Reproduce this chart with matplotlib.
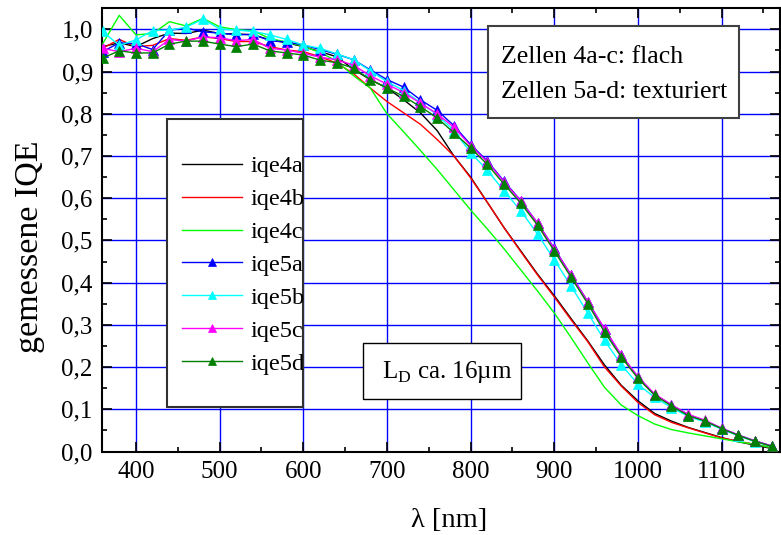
import matplotlib
matplotlib.use("Agg")
import matplotlib.pyplot as plt
from matplotlib.patches import Rectangle
from matplotlib.ticker import MultipleLocator, FuncFormatter

plt.rcParams['font.family'] = ['Liberation Serif', 'DejaVu Serif']
plt.rcParams['mathtext.fontset'] = 'custom'
plt.rcParams['mathtext.rm'] = 'Liberation Serif'

wavelength = [360, 380, 400, 420, 440, 460, 480, 500, 520, 540, 560, 580, 600, 620, 640,
              660, 680, 700, 720, 740, 760, 780, 800, 820, 840, 860, 880, 900, 920, 940,
              960, 980, 1000, 1020, 1040, 1060, 1080, 1100, 1120, 1140, 1160]

iqe4a = [0.959, 0.968, 0.959, 0.978, 0.991, 0.990, 0.998, 0.990, 0.989, 0.987, 0.975, 0.968, 0.959, 0.947, 0.935,
         0.905, 0.881, 0.861, 0.833, 0.802, 0.760, 0.700, 0.650, 0.590, 0.530, 0.475, 0.420, 0.369, 0.315, 0.262,
         0.205, 0.157, 0.120, 0.090, 0.072, 0.057, 0.045, 0.033, 0.023, 0.015, 0.007]
iqe4b = [0.955, 0.976, 0.959, 0.962, 0.978, 0.974, 0.982, 0.978, 0.971, 0.971, 0.959, 0.951, 0.947, 0.935, 0.920,
         0.895, 0.861, 0.829, 0.802, 0.775, 0.739, 0.700, 0.648, 0.590, 0.530, 0.473, 0.418, 0.366, 0.312, 0.260,
         0.200, 0.155, 0.116, 0.087, 0.069, 0.056, 0.044, 0.032, 0.024, 0.017, 0.009]
iqe4c = [0.965, 1.033, 0.987, 0.990, 1.018, 1.008, 1.026, 1.006, 0.999, 0.997, 0.978, 0.970, 0.960, 0.945, 0.925,
         0.890, 0.861, 0.800, 0.757, 0.713, 0.668, 0.620, 0.572, 0.527, 0.480, 0.430, 0.380, 0.328, 0.270, 0.210,
         0.152, 0.110, 0.085, 0.065, 0.052, 0.044, 0.037, 0.030, 0.023, 0.017, 0.009]
iqe5a = [0.947, 0.968, 0.966, 0.952, 0.998, 1.003, 0.994, 0.991, 0.987, 0.988, 0.973, 0.970, 0.963, 0.952, 0.941,
         0.928, 0.904, 0.881, 0.863, 0.833, 0.808, 0.772, 0.727, 0.688, 0.640, 0.594, 0.541, 0.481, 0.418, 0.355,
         0.290, 0.228, 0.176, 0.135, 0.110, 0.087, 0.073, 0.055, 0.039, 0.025, 0.013]
iqe5b = [0.995, 0.962, 0.975, 0.997, 0.998, 1.005, 1.024, 1.001, 0.998, 0.995, 0.987, 0.976, 0.963, 0.955, 0.942,
         0.928, 0.902, 0.876, 0.855, 0.826, 0.798, 0.760, 0.708, 0.666, 0.617, 0.570, 0.515, 0.454, 0.392, 0.328,
         0.263, 0.206, 0.159, 0.128, 0.104, 0.083, 0.070, 0.053, 0.037, 0.023, 0.012]
iqe5c = [0.955, 0.947, 0.955, 0.947, 0.976, 0.972, 0.982, 0.980, 0.973, 0.976, 0.955, 0.951, 0.943, 0.934, 0.928,
         0.915, 0.890, 0.870, 0.850, 0.825, 0.800, 0.768, 0.724, 0.686, 0.638, 0.593, 0.541, 0.480, 0.418, 0.355,
         0.291, 0.229, 0.177, 0.136, 0.111, 0.088, 0.074, 0.055, 0.039, 0.025, 0.013]
iqe5d = [0.932, 0.949, 0.944, 0.944, 0.965, 0.972, 0.972, 0.965, 0.959, 0.965, 0.949, 0.944, 0.939, 0.927, 0.921,
         0.908, 0.881, 0.861, 0.841, 0.817, 0.790, 0.755, 0.719, 0.680, 0.633, 0.588, 0.536, 0.475, 0.413, 0.350,
         0.283, 0.224, 0.173, 0.133, 0.108, 0.085, 0.072, 0.054, 0.038, 0.024, 0.012]

labels = ['iqe4a', 'iqe4b', 'iqe4c', 'iqe5a', 'iqe5b', 'iqe5c', 'iqe5d']
colors = ['#000000', '#ff0000', '#00ff00', '#0000ff', '#00ffff', '#ff00ff', '#008000']
series = [iqe4a, iqe4b, iqe4c, iqe5a, iqe5b, iqe5c, iqe5d]
with_markers = [False, False, False, True, True, True, True]

W, H = 781, 535
fig = plt.figure(figsize=(W / 100, H / 100), dpi=100)


def fx(px):
    return px / W


def fy(py):
    return 1 - py / H


ax = fig.add_axes([fx(102.5), fy(451.5), fx(780.2) - fx(102.5), fy(8.2) - fy(451.5)])

for y, lab, c, m in zip(series, labels, colors, with_markers):
    ax.plot(wavelength, y, color=c, lw=1.0, label=lab,
            marker='^' if m else None, markersize=6.5, markeredgewidth=0.5,
            markerfacecolor=c, markeredgecolor=c, zorder=3)

ax.set_xlim(360, 1170)
ax.set_ylim(0, 1.05)
ax.xaxis.set_major_locator(MultipleLocator(100))
ax.xaxis.set_minor_locator(MultipleLocator(50))
ax.yaxis.set_major_locator(MultipleLocator(0.1))
ax.yaxis.set_minor_locator(MultipleLocator(0.05))
ax.yaxis.set_major_formatter(FuncFormatter(lambda v, p: f"{v:.1f}".replace('.', ',')))
ax.grid(True, which='major', color='#0000ff', lw=1.0, zorder=1)
ax.set_axisbelow(True)
ax.tick_params(which='both', direction='in', top=True, right=True, width=1.2, labelsize=18, colors='black')
ax.tick_params(which='major', length=7, pad=7)
ax.tick_params(which='minor', length=3.5)
for sp in ax.spines.values():
    sp.set_linewidth(1.5)

fig.text(fx(449), fy(527), 'λ [nm]', ha='center', va='baseline', fontsize=20.5)
fig.text(fx(30), fy(246.7), 'gemessene IQE', ha='center', va='center', rotation=90, fontsize=24.5)

# legend box
ax.add_patch(Rectangle((fx(166.7), fy(406.7)), fx(303) - fx(166.7), fy(119.3) - fy(406.7),
                       transform=fig.transFigure, facecolor='white', edgecolor='#303030',
                       lw=1.5, zorder=4, clip_on=False))
leg = ax.legend(loc='center left', bbox_to_anchor=(fx(181.7), fy(265)),
                bbox_transform=fig.transFigure, frameon=False, fontsize=17.5,
                handlelength=2.5, handletextpad=0.35, labelspacing=0.45,
                borderpad=0, borderaxespad=0, markerscale=0.8)
leg.set_zorder(5)

# Zellen box
ax.add_patch(Rectangle((fx(488.3), fy(117.7)), fx(739.3) - fx(488.3), fy(25.7) - fy(117.7),
                       transform=fig.transFigure, facecolor='white', edgecolor='#404040',
                       lw=1.5, zorder=4, clip_on=False))
ax.text(fx(500.7), fy(63.3), 'Zellen 4a-c: flach', transform=fig.transFigure,
        fontsize=18.5, va='baseline', ha='left', zorder=5)
ax.text(fx(500.7), fy(98.3), 'Zellen 5a-d: texturiert', transform=fig.transFigure,
        fontsize=18.5, va='baseline', ha='left', zorder=5)

# L_D box
ax.add_patch(Rectangle((fx(363.3), fy(399.3)), fx(521) - fx(363.3), fy(342.7) - fy(399.3),
                       transform=fig.transFigure, facecolor='white', edgecolor='black',
                       lw=1.0, zorder=4, clip_on=False))
ax.text(fx(381.7), fy(378.3), r'L$_{\mathrm{D}}$ ca. 16µm', transform=fig.transFigure,
        fontsize=18, va='baseline', ha='left', zorder=5)

fig.savefig('out.png', dpi=100)
